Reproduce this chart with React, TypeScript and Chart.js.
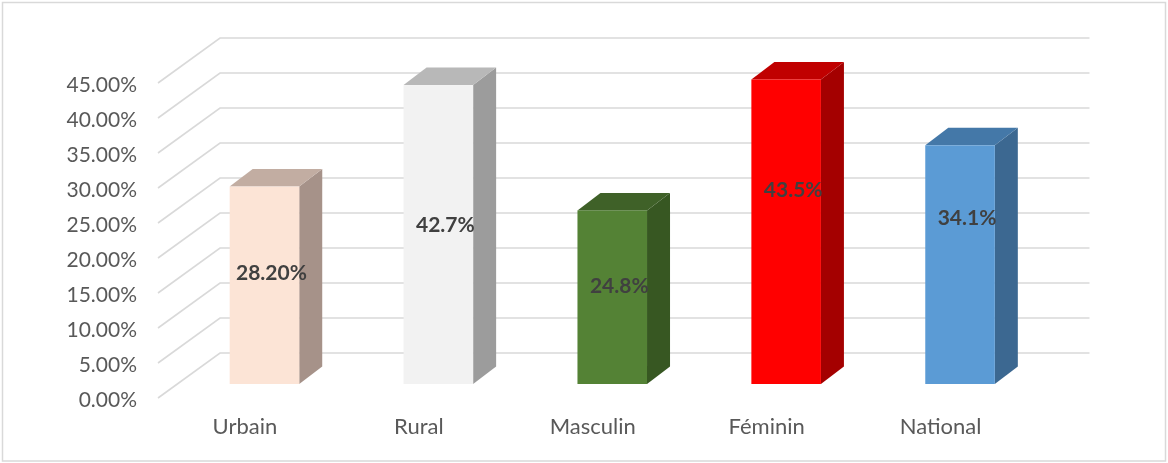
import React, { useEffect, useRef } from "react";
import { Chart, registerables } from "chart.js";

Chart.register(...registerables);

// ---- data ----
const categories = ["Urbain", "Rural", "Masculin", "Féminin", "National"];
const values = [28.2, 42.7, 24.8, 43.5, 34.1];
const valueLabels = ["28.20%", "42.7%", "24.8%", "43.5%", "34.1%"];
const yMin = 0;
const yMax = 45;
const yStep = 5;

// ---- style ----
const frontColors = ["#FCE4D6", "#F2F2F2", "#548235", "#FF0000", "#5B9BD5"];
const sideColors = ["#A69289", "#9C9C9C", "#375722", "#A40000", "#3C6891"];
const topColors = ["#C2ADA2", "#B8B8B8", "#3F6128", "#C00000", "#4478A8"];
const labelRise = [0.563, 0.53, 0.565, 0.637, 0.695];

const WALL_DX = 62;
const WALL_DY = 45;
const FRONT_DX = 19.5;
const FRONT_DY = 14;
const DEPTH_DX = 23;
const DEPTH_DY = 17.5;
const GRID = "#d9d9d9";
const FONT = "Lato, 'Open Sans', sans-serif";

const threeD = {
  id: "threeD",
  beforeDraw(chart: any) {
    const { ctx, width, height } = chart;
    ctx.save();
    ctx.fillStyle = "#ffffff";
    ctx.fillRect(0, 0, width, height);
    ctx.strokeStyle = GRID;
    ctx.lineWidth = 1.5;
    ctx.strokeRect(2.5, 2.5, width - 5, height - 4.5);
    ctx.restore();
  },
  beforeDatasetsDraw(chart: any) {
    const { ctx, chartArea } = chart;
    const y = chart.scales.y;
    ctx.save();
    ctx.strokeStyle = GRID;
    ctx.lineWidth = 1.6;
    y.ticks.forEach((t: any) => {
      const py = y.getPixelForValue(t.value);
      ctx.beginPath();
      ctx.moveTo(chartArea.left, py);
      ctx.lineTo(chartArea.left + WALL_DX, py - WALL_DY);
      ctx.lineTo(chartArea.right + WALL_DX, py - WALL_DY);
      ctx.stroke();
    });
    ctx.restore();
  },
  afterDatasetsDraw(chart: any) {
    const { ctx } = chart;
    const meta = chart.getDatasetMeta(0);
    ctx.save();
    meta.data.forEach((bar: any, i: number) => {
      const { x, y, base, width } = bar.getProps(["x", "y", "base", "width"], true);
      const l = x - width / 2 + FRONT_DX;
      const r = x + width / 2 + FRONT_DX;
      const t = y - FRONT_DY;
      const b = base - FRONT_DY;
      // side
      ctx.fillStyle = sideColors[i];
      ctx.beginPath();
      ctx.moveTo(r, t);
      ctx.lineTo(r + DEPTH_DX, t - DEPTH_DY);
      ctx.lineTo(r + DEPTH_DX, b - DEPTH_DY);
      ctx.lineTo(r, b);
      ctx.closePath();
      ctx.fill();
      // top
      ctx.fillStyle = topColors[i];
      ctx.beginPath();
      ctx.moveTo(l, t);
      ctx.lineTo(l + DEPTH_DX, t - DEPTH_DY);
      ctx.lineTo(r + DEPTH_DX, t - DEPTH_DY);
      ctx.lineTo(r, t);
      ctx.closePath();
      ctx.fill();
      // front
      ctx.fillStyle = frontColors[i];
      ctx.fillRect(l, t, r - l, b - t);
    });
    // value labels
    ctx.fillStyle = "#404040";
    ctx.font = `bold 21px ${FONT}`;
    ctx.textAlign = "center";
    ctx.textBaseline = "middle";
    meta.data.forEach((bar: any, i: number) => {
      const { x, y, base } = bar.getProps(["x", "y", "base"], true);
      const b = base - FRONT_DY;
      const t = y - FRONT_DY;
      const ly = b - labelRise[i] * (b - t);
      ctx.fillText(valueLabels[i], x + FRONT_DX + 7, ly);
    });
    ctx.restore();
  },
};

export default function App() {
  const ref = useRef<HTMLCanvasElement | null>(null);
  useEffect(() => {
    document.body.style.margin = "0";
    const canvas = ref.current;
    if (!canvas) return;
    const chart = new Chart(canvas, {
      type: "bar",
      data: {
        labels: categories,
        datasets: [
          {
            data: values,
            backgroundColor: "rgba(0,0,0,0)",
            borderWidth: 0,
            barPercentage: 0.4,
            categoryPercentage: 1,
          },
        ],
      },
      options: {
        animation: false,
        responsive: false,
        devicePixelRatio: 1,
        layout: { padding: { left: 0, top: 83, right: 140.5, bottom: 0 } },
        plugins: {
          legend: { display: false },
          tooltip: { enabled: false },
        },
        scales: {
          x: {
            grid: { display: false, drawTicks: false },
            border: { display: false },
            ticks: {
              padding: 16,
              color: "#595959",
              font: { family: FONT, size: 22 },
            },
            afterFit(scale: any) {
              scale.height = 65;
            },
          },
          y: {
            min: yMin,
            max: yMax,
            grid: { display: false, drawTicks: false },
            border: { display: false },
            ticks: {
              stepSize: yStep,
              padding: 21,
              labelOffset: 2,
              color: "#595959",
              font: { family: FONT, size: 21 },
              callback: (v: any) => Number(v).toFixed(2) + "%",
            },
            afterFit(scale: any) {
              scale.width = 158;
            },
          },
        },
      },
      plugins: [threeD],
    });
    return () => chart.destroy();
  }, []);
  return <canvas ref={ref} width={1168} height={463} style={{ display: "block" }} />;
}
